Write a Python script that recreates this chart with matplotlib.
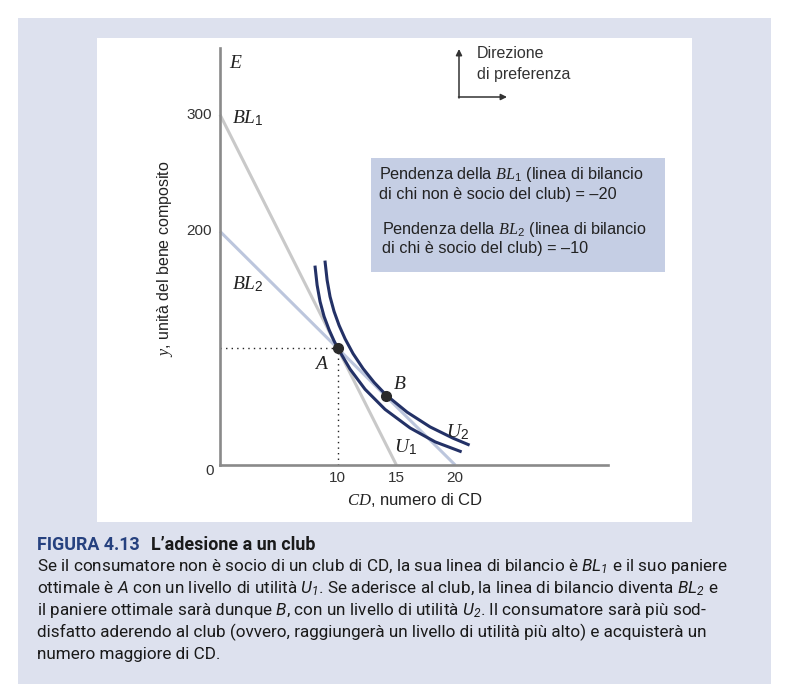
import matplotlib; matplotlib.use('Agg')
import matplotlib.pyplot as plt
from matplotlib.patches import Rectangle

plt.rcParams['font.family'] = ['Liberation Sans', 'DejaVu Sans']
plt.rcParams['mathtext.fontset'] = 'custom'
plt.rcParams['mathtext.rm'] = 'Liberation Sans'
plt.rcParams['mathtext.it'] = 'Liberation Serif:italic'
plt.rcParams['mathtext.sf'] = 'Roboto:italic'

# budget lines (end points on the axes)
bl1_x = [0, 15]; bl1_y = [300, 0]
bl2_x = [0, 20]; bl2_y = [200, 0]
# indifference curves
u1_x = [8.09, 8.26, 8.51, 8.85, 9.28, 9.70, 10.04, 11.06, 12.34, 14.04, 16.17, 18.30, 20.43]
u1_y = [169.4, 154.0, 139.9, 127.2, 115.7, 106.2, 99.6, 82.1, 64.8, 47.6, 31.7, 19.8, 11.7]
u2_x = [8.94, 9.11, 9.36, 9.70, 10.13, 10.64, 11.32, 12.17, 13.11, 14.13, 15.92, 17.87, 19.83, 21.11]
u2_y = [173.7, 158.3, 144.1, 131.5, 119.5, 108.0, 95.3, 82.5, 70.7, 59.9, 45.2, 32.6, 22.9, 17.5]
A = (10, 100); B = (14.1, 59.5)
yticks = [300, 200]; xticks = [10, 15, 20]

W, H = 786, 697
fig = plt.figure(figsize=(W/100, H/100), dpi=100)
fig.patch.set_facecolor('white')

def fr(x, y):  # image pixel -> figure fraction
    return x/W, 1 - y/H

def rect(x0, y0, x1, y1, c):
    fig.add_artist(Rectangle(fr(x0, y1), (x1-x0)/W, (y1-y0)/H, transform=fig.transFigure,
                             facecolor=c, edgecolor='none', zorder=-5))

rect(18, 18, 771, 684, '#dde1ee')
rect(97, 38, 692, 522, 'white')
rect(371, 158, 665, 272, '#c5cee4')

# axes: x 0..33 on px 220..608, y 0..357 on px 465..48
ax = fig.add_axes([220/W, 1-465/H, 388/W, 417/H])
ax.set_xlim(0, 33); ax.set_ylim(0, 357)
ax.patch.set_alpha(0)
for s in ['top', 'right']: ax.spines[s].set_visible(False)
for s in ['left', 'bottom']:
    ax.spines[s].set_color('#8a8a8a'); ax.spines[s].set_linewidth(1.9)
ax.set_xticks([]); ax.set_yticks([])

ax.plot(bl1_x, bl1_y, color='#c9c9c9', lw=2.2, solid_capstyle='butt', clip_on=False)
ax.plot(bl2_x, bl2_y, color='#bcc6dd', lw=2.2, solid_capstyle='butt', clip_on=False)
ax.plot([0, A[0]], [A[1], A[1]], color='#222222', lw=1, ls=(0, (1, 3)))
ax.plot([A[0], A[0]], [0, A[1]], color='#222222', lw=1, ls=(0, (1, 3)))
ax.plot(u1_x, u1_y, color='#233166', lw=2.2, solid_joinstyle='round')
ax.plot(u2_x, u2_y, color='#233166', lw=2.2, solid_joinstyle='round')
ax.plot(*A, 'o', color='#2a2a2a', ms=7, zorder=5)
ax.plot(*B, 'o', color='#2a2a2a', ms=7, zorder=5)

fs = 11
for v in yticks:
    ax.text(-0.68, v, str(v), ha='right', va='center', fontsize=fs, color='#333333', clip_on=False)
ax.text(-0.5, -5, '0', ha='right', va='center', fontsize=fs, color='#333333', clip_on=False)
for v in xticks:
    ax.text(v, -11, str(v), ha='center', va='center', fontsize=fs, color='#333333', clip_on=False)
ax.text(16.6, -30, '$CD$, numero di CD', ha='center', va='center', fontsize=12, color='#222222', clip_on=False)
ax.text(-4.7, 177, "$y$, unità del bene composito", ha='center', va='center', rotation=90,
        fontsize=11.5, color='#222222', clip_on=False)

lab = dict(fontsize=14, color='#222222', va='center', clip_on=False)
ax.text(0.8, 344, '$E$', ha='left', **lab)
ax.text(1.0, 297, '$BL_1$', ha='left', **lab)
ax.text(1.0, 155, '$BL_2$', ha='left', **lab)
ax.text(8.6, 86, '$A$', ha='center', **lab)
ax.text(15.3, 69, '$B$', ha='center', **lab)
ax.text(20.2, 28, '$U_2$', ha='center', **lab)
ax.text(15.8, 15, '$U_1$', ha='center', **lab)

# box with slopes
box = [(379, 175, 'Pendenza della $BL_1$ (linea di bilancio'),
       (379, 194, 'di chi non è socio del club) = –20'),
       (382, 229, 'Pendenza della $BL_2$ (linea di bilancio'),
       (382, 248, 'di chi è socio del club) = –10')]
for x, y, t in box:
    fig.text(*fr(x, y), t, ha='left', va='center', fontsize=11.7, color='#222222')

# preference direction
ax.annotate('', xy=fr(459, 49), xytext=fr(459, 98), xycoords='figure fraction',
            arrowprops=dict(arrowstyle='-|>', color='#333333', lw=1.1, mutation_scale=9, shrinkA=0, shrinkB=0))
ax.annotate('', xy=fr(507, 97), xytext=fr(458.5, 97), xycoords='figure fraction',
            arrowprops=dict(arrowstyle='-|>', color='#333333', lw=1.1, mutation_scale=9, shrinkA=0, shrinkB=0))
fig.text(*fr(477, 53), 'Direzione', ha='left', va='center', fontsize=11.5, color='#333333')
fig.text(*fr(477, 74), 'di preferenza', ha='left', va='center', fontsize=11.5, color='#333333')

# caption
cf = ['Roboto', 'DejaVu Sans']
caption = ['Se il consumatore non è socio di un club di CD, la sua linea di bilancio è $\\mathsf{BL_1}$ e il suo paniere',
           'ottimale è $\\mathsf{A}$ con un livello di utilità $\\mathsf{U_1}$. Se aderisce al club, la linea di bilancio diventa $\\mathsf{BL_2}$ e',
           'il paniere ottimale sarà dunque $\\mathsf{B}$, con un livello di utilità $\\mathsf{U_2}$. Il consumatore sarà più sod-',
           'disfatto aderendo al club (ovvero, raggiungerà un livello di utilità più alto) e acquisterà un',
           'numero maggiore di CD.']
# fit the first caption line to the width it has in the original (about 691 px)
probe = fig.text(0, 0, caption[0], fontsize=13, family=cf)
r = fig.canvas.get_renderer()
cfs = 13 * 691 / probe.get_window_extent(r).width
probe.remove()

t1 = fig.text(*fr(37, 545), 'FIGURA 4.13', ha='left', va='center', fontsize=cfs + 0.5, fontweight='bold',
              color='#26417f', family=cf)
ax.annotate('L’adesione a un club', xy=(1, 0.5), xycoords=t1, xytext=(8, 0), textcoords='offset points',
            ha='left', va='center', fontsize=cfs + 0.5, fontweight='bold', color='#1a1a1a', family=cf)
for i, line in enumerate(caption):
    fig.text(*fr(37, 571 + 22*i), line, ha='left', va='baseline', fontsize=cfs, color='#1a1a1a', family=cf)

fig.savefig('out.png', dpi=100)
